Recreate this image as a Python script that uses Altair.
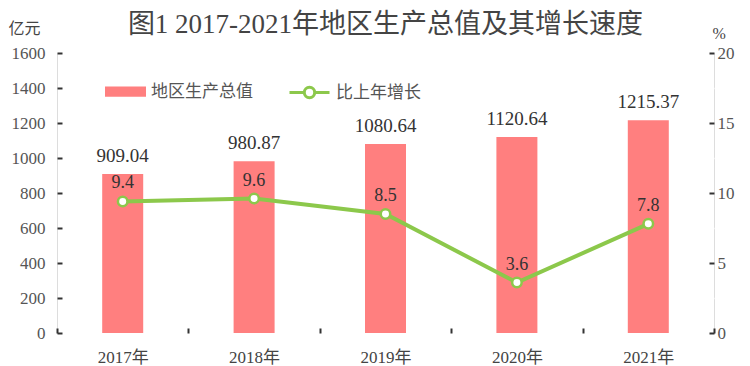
import altair as alt
import pandas as pd

years = ["2017年", "2018年", "2019年", "2020年", "2021年"]
gdp = [909.04, 980.87, 1080.64, 1120.64, 1215.37]
growth = [9.4, 9.6, 8.5, 3.6, 7.8]
gdp_labels = ["909.04", "980.87", "1080.64", "1120.64", "1215.37"]
growth_labels = ["9.4", "9.6", "8.5", "3.6", "7.8"]
left_ticks = [0, 200, 400, 600, 800, 1000, 1200, 1400, 1600]
right_ticks = [0, 5, 10, 15, 20]

RED = "#FF7F7F"
GREEN = "#8CC84B"
SERIF = "Liberation Serif"
CJK = "Liberation Serif, Noto Sans CJK SC"

df = pd.DataFrame({
    "year": years,
    "gdp": gdp,
    "growth": growth,
    "gdp_label": gdp_labels,
    "growth_label": growth_labels,
    "s1": "地区生产总值",
    "s2": "比上年增长",
})

base = alt.Chart(df)

x_enc = alt.X(
    "year:N", sort=years,
    scale=alt.Scale(paddingInner=0, paddingOuter=0),
    axis=alt.Axis(title=None, labelAngle=0, tickBand="extent", domain=False,
                  tickSize={"expr": "-5"}, tickColor="#333", tickWidth=2,
                  labelPadding=21, labelFont=CJK, labelFontSize=17, labelColor="#444",
                  grid=False),
)

y_left = alt.Y(
    "gdp:Q",
    scale=alt.Scale(domain=[0, 1600], nice=False),
    axis=alt.Axis(values=left_ticks, format="d", title="亿元", titleAngle=0, titleX=-49, titleY=-33,
                  titleAlign="left", titleBaseline="top", titleFont=CJK, titleFontSize=16,
                  titleFontWeight="normal", titleColor="#444",
                  domain=False, tickSize={"expr": "-5"}, tickColor="#333", tickWidth=2,
                  labelPadding=17, labelFont=SERIF, labelFontSize=17, labelColor="#555",
                  grid=True, gridColor="white", gridWidth=1.5),
)
y_right = alt.Y(
    "growth:Q",
    scale=alt.Scale(domain=[0, 20], nice=False),
    axis=alt.Axis(orient="right", values=right_ticks, format="d", title="%", titleAngle=0, titleX=-2,
                  titleY=-28, titleAlign="left", titleBaseline="top", titleFont=SERIF,
                  titleFontSize=16, titleFontWeight="normal", titleColor="#444",
                  domain=False, tickSize={"expr": "-5"}, tickColor="#333", tickWidth=2,
                  labelPadding=8, labelFont=SERIF, labelFontSize=17, labelColor="#555",
                  grid=False),
)

bars = base.mark_bar(size=41).encode(
    x=x_enc,
    y=y_left,
    fill=alt.Fill("s1:N", scale=alt.Scale(range=[RED]),
                  legend=alt.Legend(title=None, orient="none", legendX=48, legendY=18,
                                    symbolType="M-1,-0.25H1V0.25H-1Z", symbolSize=1681,
                                    symbolStrokeWidth=0, labelFont="Noto Sans CJK SC",
                                    labelFontSize=17, labelColor="#555", labelOffset=5)),
)
bar_text = base.mark_text(baseline="bottom", dy=-8, font=SERIF, fontSize=19, color="#333").encode(
    x=x_enc, y=y_left, text="gdp_label:N"
)

line = base.mark_line(color=GREEN, strokeWidth=4).encode(x=x_enc, y=y_right)
points = base.mark_point(filled=True, fill="white", strokeWidth=2.5, size=90, opacity=1).encode(
    x=x_enc,
    y=y_right,
    stroke=alt.Stroke("s2:N", scale=alt.Scale(range=[GREEN]),
                      legend=alt.Legend(title=None, orient="none", legendX=231, legendY=18,
                                        symbolType="M-1,0H-0.26M0.26,0H1M-0.26,0A0.26,0.26,0,1,1,0.26,0A0.26,0.26,0,1,1,-0.26,0Z",
                                        symbolSize=1600, symbolStrokeWidth=3,
                                        symbolFillColor="white", labelFont="Noto Sans CJK SC",
                                        labelFontSize=17, labelColor="#555", labelOffset=5)),
)
line_text = base.mark_text(baseline="bottom", dy=-9, font=SERIF, fontSize=18, color="#333").encode(
    x=x_enc, y=y_right, text="growth_label:N"
)

left_layer = alt.layer(bars, bar_text)
right_layer = alt.layer(line, points, line_text)

chart = alt.layer(left_layer, right_layer).resolve_scale(
    y="independent", fill="independent", stroke="independent"
).properties(
    width=657, height=280,
    autosize=alt.AutoSizeParams(type="none"),
    padding={"left": 49, "top": 45, "right": 28, "bottom": 34},
    title=alt.Title("图1  2017-2021年地区生产总值及其增长速度", font=CJK, fontSize=27,
                    fontWeight="normal", color="#444", anchor="middle", offset=0, dy=19),
).configure_view(
    fill="#EDF5F8", stroke="#333", strokeWidth=2.5
).configure(background="white")

chart.save("out.html", embed_options={"renderer": "svg", "actions": False})
